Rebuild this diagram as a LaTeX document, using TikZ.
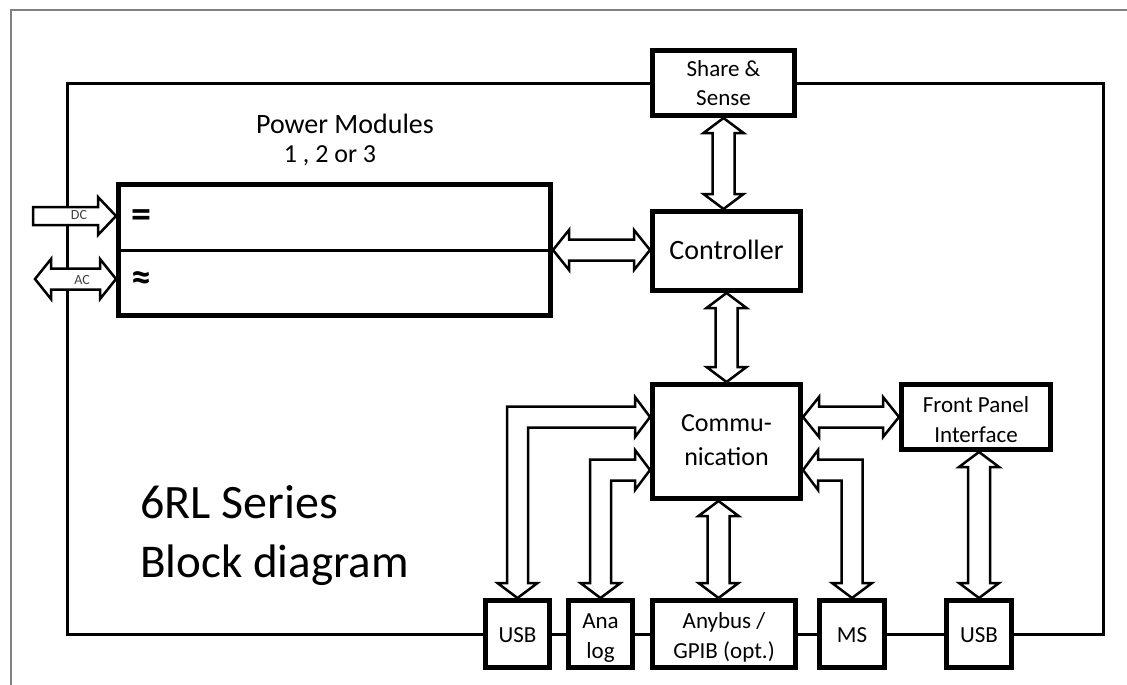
\documentclass[tikz,border=0pt]{standalone}
\usepackage{fontspec}
\setmainfont{Carlito}
\usetikzlibrary{calc}
\newcommand{\fsz}[2]{\fontsize{#1}{#2}\selectfont}
% vertical double block arrow: #1 top tip, #2 bottom tip
\newcommand{\VDA}[2]{%
\path[blockarrow] let \p1=#1, \p2=#2 in
 (\x1,\y1) -- (\x1+20pt,\y1-15pt) -- (\x1+11pt,\y1-15pt) -- (\x1+11pt,\y2+15pt) -- (\x1+20pt,\y2+15pt) -- (\x1,\y2)
 -- (\x1-20pt,\y2+15pt) -- (\x1-11pt,\y2+15pt) -- (\x1-11pt,\y1-15pt) -- (\x1-20pt,\y1-15pt) -- cycle;}
% horizontal double block arrow: #1 left tip, #2 right tip
\newcommand{\HDA}[2]{%
\path[blockarrow] let \p1=#1, \p2=#2 in
 (\x1,\y1) -- (\x1+16pt,\y1+20pt) -- (\x1+16pt,\y1+10.5pt) -- (\x2-16pt,\y1+10.5pt) -- (\x2-16pt,\y1+20pt) -- (\x2,\y1)
 -- (\x2-16pt,\y1-20pt) -- (\x2-16pt,\y1-10.5pt) -- (\x1+16pt,\y1-10.5pt) -- (\x1+16pt,\y1-20pt) -- cycle;}
% elbow double block arrow: #1 bottom tip (pointing down), #2 side tip, #3 = 1 (head right) or -1 (head left)
\newcommand{\ELA}[3]{%
\path[blockarrow] let \p1=#1, \p2=#2 in
 (\x2,\y2) -- ({\x2-(#3)*15pt},{\y2+20pt}) -- ({\x2-(#3)*15pt},{\y2+10.5pt}) -- ({\x1-(#3)*10.5pt},{\y2+10.5pt})
 -- ({\x1-(#3)*10.5pt},{\y1+15pt}) -- ({\x1-(#3)*20pt},{\y1+15pt}) -- (\x1,\y1) -- ({\x1+(#3)*20pt},{\y1+15pt})
 -- ({\x1+(#3)*10.5pt},{\y1+15pt}) -- ({\x1+(#3)*10.5pt},{\y2-10.5pt}) -- ({\x2-(#3)*15pt},{\y2-10.5pt})
 -- ({\x2-(#3)*15pt},{\y2-20pt}) -- cycle;}
\begin{document}
\begin{tikzpicture}[x=1pt,y=-1pt,
  box/.style={draw, line width=5pt, fill=white, inner sep=0pt},
  txt/.style={font=\fsz{23}{28}, anchor=base, inner sep=0pt},
  frame/.style={line width=3pt, line join=miter},
  blockarrow/.style={draw, line width=2.5pt, fill=white, line join=miter},
  sym/.style={font=\fsz{40}{40}\bfseries, inner sep=0pt}]
\useasboundingbox (0,0) rectangle (1127,685);
\fill[white] (0,0) rectangle (1127,685);
% outer page frame
\draw[line width=1.5pt, gray] (11,685) -- (11,10) -- (1127,10);

% box positions
\coordinate (share) at (723.5,83);
\coordinate (ctrl) at (726.5,251);
\coordinate (comm) at (726.5,441.5);
\coordinate (fpi) at (976,417);
\coordinate (power) at (334.5,250);
\coordinate (usb1) at (517.5,634);
\coordinate (analog) at (600.5,634);
\coordinate (anybus) at (724,634);
\coordinate (ms) at (852,634);
\coordinate (usb2) at (979,634);
\tikzset{
  sharebox/.style={box, minimum width=142, minimum height=65},
  ctrlbox/.style={box, minimum width=148, minimum height=79},
  commbox/.style={box, minimum width=148, minimum height=114},
  fpibox/.style={box, minimum width=149, minimum height=65},
  smallbox/.style={box, minimum width=64, minimum height=67},
  anybox/.style={box, minimum width=143, minimum height=67}}
\node[sharebox] (shareB) at (share) {};
\node[ctrlbox] (ctrlB) at (ctrl) {};
\node[commbox] (commB) at (comm) {};
\node[fpibox] (fpiB) at (fpi) {};
\node[box, minimum width=432, minimum height=131] (powerB) at (power) {};
\node[smallbox] (usb1B) at (usb1) {};
\node[smallbox] (analogB) at (analog) {};
\node[anybox] (anybusB) at (anybus) {};
\node[smallbox, minimum width=65] (msB) at (ms) {};
\node[smallbox, minimum width=65] (usb2B) at (usb2) {};

% inner frame
\coordinate (tl) at (67,83);
\coordinate (bl) at (67,634);
\coordinate (br) at (1103,634);
\coordinate (tr) at (1103,83);
\draw[frame] (shareB.west) -- (tl) -- (bl) -- (usb1B.west);
\draw[frame] (usb1B.east) -- (analogB.west);
\draw[frame] (analogB.east) -- (anybusB.west);
\draw[frame] (anybusB.east) -- (msB.west);
\draw[frame] (msB.east) -- (usb2B.west);
\draw[frame] (usb2B.east) -- (br) -- (tr) -- (shareB.east);

% power module divider
\draw[line width=3pt] (powerB.west) -- (powerB.east);

% input arrows
\coordinate (dcs) at (33,216);
\coordinate (acs) at (35,279);
\path[blockarrow] let \p1=(dcs), \p2=(dcs -| powerB.west) in
 (\x1,\y1+9pt) -- (\x2-18pt,\y1+9pt) -- (\x2-18pt,\y1+19pt) -- (\x2,\y1) -- (\x2-18pt,\y1-19pt) -- (\x2-18pt,\y1-9pt) -- (\x1,\y1-9pt) -- cycle;
\HDA{(acs)}{(acs -| powerB.west)}
\node[font=\fsz{14}{16}, text=black!75] (dc) at (79,215) {DC};
\node[font=\fsz{14}{16}, text=black!75] (ac) at (82,280) {AC};

% block arrows
\VDA{(shareB.south)}{(ctrlB.north)}
\VDA{(ctrlB.south)}{(commB.north)}
\VDA{($(commB.south)+(-8,0)$)}{($(anybusB.north)+(-5,0)$)}
\VDA{(fpiB.south -| usb2B.north)}{(usb2B.north)}
\HDA{(powerB.east)}{(ctrlB.west)}
\HDA{(commB.east |- fpiB.west)}{(fpiB.west)}
\ELA{(usb1B.north)}{($(commB.west)+(0,-24.5)$)}{1}
\ELA{(analogB.north)}{($(commB.west)+(0,28.5)$)}{1}
\ELA{(msB.north)}{($(commB.east)+(0,28.5)$)}{-1}

% redraw boxes on top of arrow tips
\node[sharebox] at (share) {};
\node[ctrlbox] at (ctrl) {};
\node[commbox] at (comm) {};
\node[fpibox] at (fpi) {};
\node[smallbox] at (usb1) {};
\node[smallbox] at (analog) {};
\node[anybox] at (anybus) {};
\node[smallbox, minimum width=65] at (ms) {};
\node[smallbox, minimum width=65] at (usb2) {};

% box texts
\node[txt] (shareT1) at ($(share)+(0,-6)$) {Share \&};
\node[txt] (shareT2) at ($(share)+(0,22)$) {Sense};
\node[txt, font=\fsz{28}{32}] (ctrlT) at ($(ctrl)+(0,8)$) {Controller};
\node[txt, font=\fsz{26}{32}] (commT1) at ($(comm)+(0,-10.5)$) {Commu-};
\node[txt, font=\fsz{26}{32}] (commT2) at ($(comm)+(0,23.5)$) {nication};
\node[txt] (fpiT1) at ($(fpi)+(0,-5)$) {Front Panel};
\node[txt] (fpiT2) at ($(fpi)+(0,25)$) {Interface};
\node[txt] (usb1T) at ($(usb1)+(0,8)$) {USB};
\node[txt] (analogT1) at ($(analog)+(0,-6)$) {Ana};
\node[txt] (analogT2) at ($(analog)+(0,24)$) {log};
\node[txt] (anybusT1) at ($(anybus)+(0,-6)$) {Anybus /};
\node[txt] (anybusT2) at ($(anybus)+(0,24)$) {GPIB (opt.)};
\node[txt] (msT) at ($(ms)+(0,8)$) {MS};
\node[txt] (usb2T) at ($(usb2)+(0,8)$) {USB};

% symbols in power module
\node[sym] (eq) at (141,219) {=};
\node[sym] (apx) at (141,281) {≈};

% texts
\node[font=\fsz{28}{32}, anchor=base] (pm) at (345,133) {Power Modules};
\node[font=\fsz{26}{30}, anchor=base] (pmn) at (330,162) {1 , 2 or 3};
\node[font=\fsz{48}{56}, anchor=base west, inner sep=0pt] (t1) at (140,518) {6RL Series};
\node[font=\fsz{47}{56}, anchor=base west, inner sep=0pt] (t2) at (140,577) {Block diagram};
\end{tikzpicture}
\end{document}
